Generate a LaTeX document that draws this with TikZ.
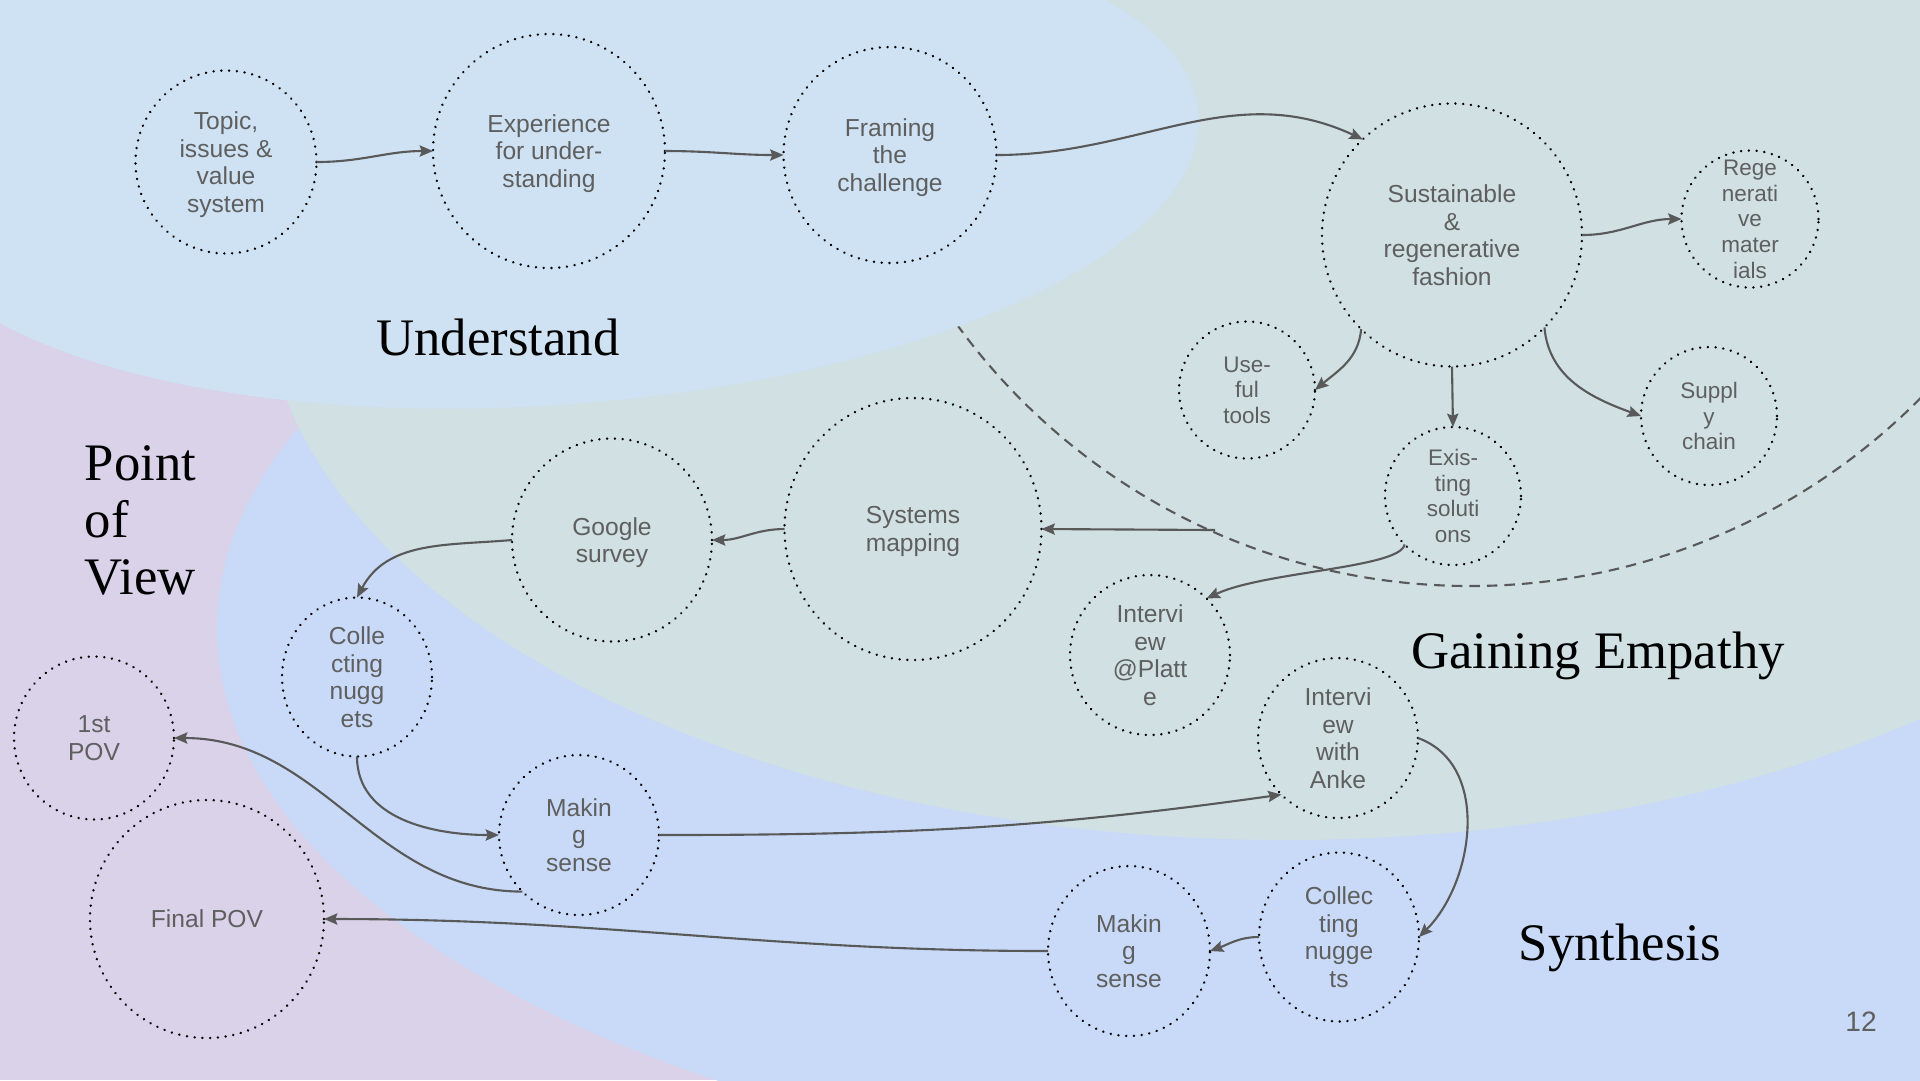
\documentclass[tikz,border=0pt]{standalone}
\usepackage{fontspec}
\setsansfont{Liberation Sans}
\newfontfamily\headingfont{Liberation Serif}
\usepackage{tikz}
\usetikzlibrary{shapes, arrows.meta, positioning}
\definecolor{understandblue}{HTML}{CFE2F3}
\definecolor{empathygreen}{HTML}{D0E0E3}
\definecolor{synthblue}{HTML}{C9DAF8}
\definecolor{povpurple}{HTML}{D9D2E9}
\definecolor{nodegray}{HTML}{5F5F5F}
\definecolor{linegray}{HTML}{595959}

\begin{document}
\begin{tikzpicture}[x=0.1mm, y=0.1mm,
  bubble/.style 2 args={ellipse, draw=black, line width=0.75pt, dash pattern=on 0.01pt off 2.2pt, line cap=round,
    inner sep=-6pt, outer sep=0pt, minimum width=#1mm, minimum height=#2mm, align=center, text depth=0pt,
    text=nodegray, font=\sffamily\fontsize{7}{7.9}\selectfont},
  small/.style={font=\sffamily\fontsize{6.4}{7.3}\selectfont},
  phase/.style={font=\headingfont\fontsize{15}{16.2}\selectfont, inner sep=0pt},
  link/.style={draw=linegray, line width=0.6pt, -{Stealth[length=3.8pt, width=3.2pt, inset=0.6pt]}}]

  \useasboundingbox (0,0) rectangle (1920,-1080);
  \begin{scope}
    \clip (0,0) rectangle (1920,-1080);
    \fill[povpurple] (0,0) rectangle (1920,-1080);
    \fill[synthblue] (1442,-629) ellipse [x radius=1225, y radius=560];
    \fill[empathygreen] (1285,-280) ellipse [x radius=1022, y radius=560];
    \draw[linegray, line width=0.6pt, dash pattern=on 3pt off 2pt] (1470,48) circle [radius=634];
    \fill[understandblue] (0,0) rectangle (500,-200)
      [rotate around={4:(550,-160)}] (550,-160) ellipse [x radius=650, y radius=245];
  \end{scope}

  \node[phase, anchor=base] (understand) at (498,-355) {Understand};
  \node[phase, anchor=west, align=left] (pov) at (84,-520) {Point\\of\\View};
  \node[phase, anchor=base] (empathy) at (1598,-668) {Gaining Empathy};
  \node[phase, anchor=base] (synthesis) at (1620,-960) {Synthesis};
  \node[font=\sffamily\fontsize{8}{9.6}\selectfont, text=nodegray, anchor=base] (pagenum) at (1861,-1031) {12};

  \node[bubble={18.1}{18.3}] (topic) at (226,-162) {Topic,\\issues \&\\value\\system};
  \node[bubble={23.2}{23.4}] (exper) at (549,-151) {Experience\\for under-\\standing};
  \node[bubble={21.3}{21.6}] (framing) at (890,-155) {Framing\\the\\challenge};
  \node[bubble={26.0}{26.3}] (fashion) at (1452,-235) {Sustainable\\\&\\regenerative\\fashion};
  \node[bubble={13.7}{13.7}, small] (regen) at (1750,-219) {Rege\\nerati\\ve\\mater\\ials};
  \node[bubble={13.6}{13.7}, small] (tools) at (1247,-390) {Use-\\ful\\tools};
  \node[bubble={13.6}{13.8}, small] (existing) at (1453,-496) {Exis-\\ting\\soluti\\ons};
  \node[bubble={13.6}{13.8}, small] (supply) at (1709,-416) {Suppl\\y\\chain};
  \node[bubble={25.7}{26.2}] (sysmap) at (913,-529) {Systems\\mapping};
  \node[bubble={20.0}{20.3}] (survey) at (612,-540) {Google\\survey};
  \node[bubble={15.0}{15.9}] (nuggetsA) at (357,-677) {Colle\\cting\\nugg\\ets};
  \node[bubble={16.0}{16.3}] (firstpov) at (94,-738) {1st\\POV};
  \node[bubble={23.4}{23.8}] (finalpov) at (207,-919) {Final POV};
  \node[bubble={16.0}{16.0}] (senseA) at (579,-835) {Makin\\g\\sense};
  \node[bubble={16.0}{16.0}] (platte) at (1150,-655) {Intervi\\ew\\@Platt\\e};
  \node[bubble={16.0}{16.0}] (anke) at (1338,-738) {Intervi\\ew\\with\\Anke};
  \node[bubble={16.0}{16.9}] (nuggetsB) at (1339,-937) {Collec\\ting\\nugge\\ts};
  \node[bubble={16.2}{17.0}] (senseB) at (1129,-951) {Makin\\g\\sense};

  \coordinate (rim) at (1215,-530);

  \draw[link] (topic.east) to[out=0, in=180] (exper.west);
  \draw[link] (exper.east) to[out=0, in=180] (framing.west);
  \draw[link] (framing.east) to[out=0, in=155] (fashion.133);
  \draw[link] (fashion.east) to[out=0, in=180] (regen.west);
  \draw[link] (fashion.226) to[out=265, in=40] (tools.east);
  \draw[link] (fashion.south) -- (existing.north);
  \draw[link] (fashion.315) to[out=275, in=160] (supply.west);
  \draw[link] (rim) -- (sysmap.east);
  \draw[link] (sysmap.west) to[out=180, in=0] (survey.east);
  \draw[link] (survey.west) to[out=185, in=62] (nuggetsA.north);
  \draw[link] (nuggetsA.south) to[out=270, in=180] (senseA.west);
  \draw[link] (senseA.225) to[out=180, in=0] (firstpov.east);
  \draw[link] (senseA.east) to[out=0, in=188] (anke.225);
  \draw[link] (existing.225) to[out=260, in=25, out looseness=0.3, in looseness=0.8] (platte.45);
  \draw[link] (anke.east) to[out=-20, in=45] (nuggetsB.east);
  \draw[link] (nuggetsB.west) to[out=180, in=20] (senseB.east);
  \draw[link] (senseB.west) to[out=180, in=0] (finalpov.east);
\end{tikzpicture}
\end{document}
